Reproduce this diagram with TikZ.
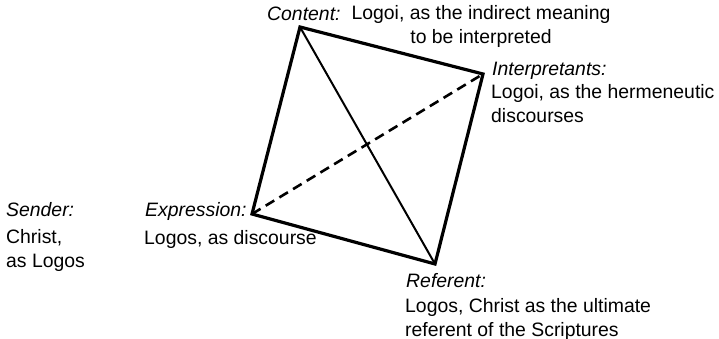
\documentclass[tikz,border=0pt]{standalone}
\usepackage{fontspec}
\setmainfont{Liberation Sans}
\usetikzlibrary{positioning}

\begin{document}
\begin{tikzpicture}[
    x=1pt, y=-1pt,
    role/.style={font=\fontsize{19.4}{24}\selectfont\itshape, inner sep=0pt, anchor=base west},
    gloss/.style={font=\fontsize{19.4}{24}\selectfont, inner sep=0pt, align=left, anchor=base west},
    side/.style={line width=3.2pt, line join=miter},
    diag/.style={line width=2pt},
    hidden/.style={line width=2.6pt, dash pattern=on 10pt off 6pt}
]
    \useasboundingbox (0,0) rectangle (719,339);

    % corners of the tetrahedron
    \coordinate (content) at (300,27);
    \coordinate (interp) at (483,74);
    \coordinate (express) at (252,214);
    \coordinate (refer) at (435,264);

    \draw[side] (content) -- (interp) -- (refer) -- (express) -- cycle;
    \draw[diag] (content) -- (refer);
    \draw[hidden] (express) -- (interp);

    % labels (base anchor sits on the last line)
    \node[role] (contentrole) at (267,21) {Content:};
    \node[gloss, align=center, anchor=base] (contentgloss) at (481,44)
        {Logoi, as the indirect meaning\\to be interpreted};

    \node[role] (interprole) at (492,76) {Interpretants:};
    \node[gloss] (interpgloss) at (491,123) {Logoi, as the hermeneutic\\discourses};

    \node[role] (senderrole) at (6,216) {Sender:};
    \node[gloss] (sendergloss) at (6,267) {Christ,\\as Logos};

    \node[role] (expressrole) at (145,216) {Expression:};
    \node[gloss] (expressgloss) at (144,244) {Logos, as discourse};

    \node[role] (referrole) at (406,287) {Referent:};
    \node[gloss] (refergloss) at (405,336) {Logos, Christ as the ultimate\\referent of the Scriptures};
\end{tikzpicture}
\end{document}
